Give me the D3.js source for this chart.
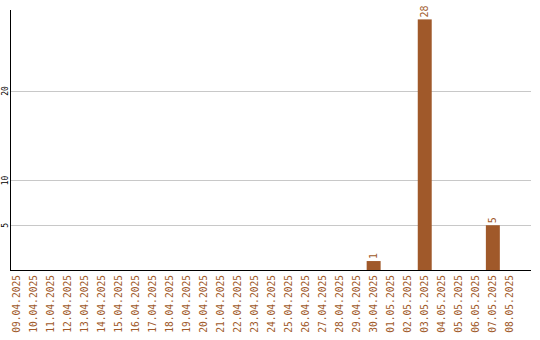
<!DOCTYPE html>
<html>
<head>
<meta charset="utf-8">
<script src="https://cdn.jsdelivr.net/npm/d3@7"></script>
<style>
  html, body { margin: 0; padding: 0; background: #fff; }
  svg { display: block; }
</style>
</head>
<body>
<svg id="chart" width="540" height="340"></svg>
<script>
// Daily counts, 09.04.2025 – 08.05.2025
const dates = [
  "09.04.2025","10.04.2025","11.04.2025","12.04.2025","13.04.2025","14.04.2025",
  "15.04.2025","16.04.2025","17.04.2025","18.04.2025","19.04.2025","20.04.2025",
  "21.04.2025","22.04.2025","23.04.2025","24.04.2025","25.04.2025","26.04.2025",
  "27.04.2025","28.04.2025","29.04.2025","30.04.2025","01.05.2025","02.05.2025",
  "03.05.2025","04.05.2025","05.05.2025","06.05.2025","07.05.2025","08.05.2025"
];
const counts = [
  0,0,0,0,0,0,
  0,0,0,0,0,0,
  0,0,0,0,0,0,
  0,0,0,1,0,0,
  28,0,0,0,5,0
];
const yTicks = [5, 10, 20];

const svg = d3.select("#chart");
const barColor = "#a0592a";
const font = "'DejaVu Sans Mono', monospace";

const plot = { left: 10, right: 531, top: 10, bottom: 270 };

const x = d3.scaleBand()
  .domain(dates)
  .range([7.5, 518.4])
  .paddingInner(0.18)
  .paddingOuter(0.09);

const y = d3.scaleLinear()
  .domain([0, 29.05])
  .range([plot.bottom, plot.top]);

// horizontal grid lines
svg.append("g")
  .selectAll("line")
  .data(yTicks)
  .join("line")
  .attr("x1", plot.left).attr("x2", plot.right)
  .attr("y1", d => Math.round(y(d)) + 0.5)
  .attr("y2", d => Math.round(y(d)) + 0.5)
  .attr("stroke", "#c8c8c8")
  .attr("stroke-width", 1);

// y tick labels, rotated
svg.append("g")
  .selectAll("text")
  .data(yTicks)
  .join("text")
  .attr("transform", d => `translate(7.5,${y(d)}) rotate(-90)`)
  .attr("text-anchor", "middle")
  .attr("font-family", font)
  .attr("font-size", "8px")
  .attr("fill", "#000")
  .text(d => d);

const nonZero = dates.map((d, i) => ({ date: d, v: counts[i] })).filter(d => d.v > 0);

// bars
svg.append("g")
  .selectAll("rect")
  .data(nonZero)
  .join("rect")
  .attr("x", d => x(d.date))
  .attr("y", d => y(d.v))
  .attr("width", x.bandwidth())
  .attr("height", d => plot.bottom - y(d.v))
  .attr("fill", barColor);

// value labels above bars
svg.append("g")
  .selectAll("text")
  .data(nonZero)
  .join("text")
  .attr("transform", d => `translate(${x(d.date) + x.bandwidth() / 2 + 3.5},${y(d.v) - 2}) rotate(-90)`)
  .attr("text-anchor", "start")
  .attr("font-family", font)
  .attr("font-size", "10px")
  .attr("fill", barColor)
  .text(d => d.v);

// axis lines
svg.append("line")
  .attr("x1", plot.left + 0.5).attr("x2", plot.left + 0.5)
  .attr("y1", plot.top).attr("y2", plot.bottom)
  .attr("stroke", "#000");
svg.append("line")
  .attr("x1", plot.left).attr("x2", plot.right)
  .attr("y1", plot.bottom + 0.5).attr("y2", plot.bottom + 0.5)
  .attr("stroke", "#000");

// date labels, rotated
svg.append("g")
  .selectAll("text")
  .data(dates)
  .join("text")
  .attr("transform", d => `translate(${x(d) + x.bandwidth() / 2 + 3.5},275) rotate(-90)`)
  .attr("text-anchor", "end")
  .attr("font-family", font)
  .attr("font-size", "9.6px")
  .attr("fill", barColor)
  .text(d => d);
</script>
</body>
</html>
